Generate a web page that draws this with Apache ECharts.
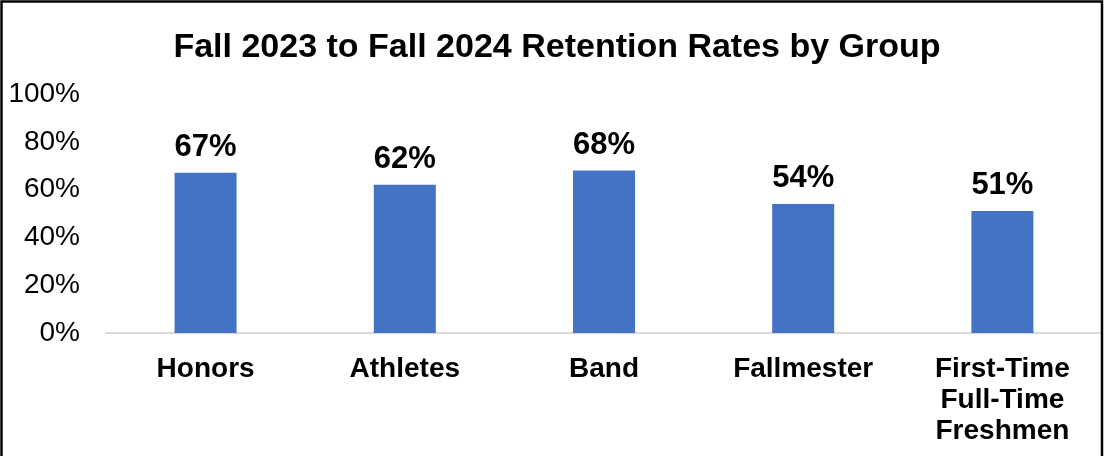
<!DOCTYPE html>
<html><head><meta charset="utf-8">
<script src="https://cdn.jsdelivr.net/npm/echarts@6/dist/echarts.min.js"></script>
<style>html,body{margin:0;padding:0;background:#fff}#c{width:1104px;height:456px}</style>
</head><body><div id="c"></div>
<script>
const categories = ['Honors', 'Athletes', 'Band', 'Fallmester', 'First-Time\nFull-Time\nFreshmen'];
const retention = [67, 62, 68, 54, 51];
const yTicks = [0, 20, 40, 60, 80, 100];

const chart = echarts.init(document.getElementById('c'));
chart.setOption({
  animation: false,
  backgroundColor: '#fff',
  title: {
    text: 'Fall 2023 to Fall 2024 Retention Rates by Group',
    left: 552, top: 26, textAlign: 'center',
    textStyle: {fontFamily: 'Liberation Sans', fontWeight: 'bold', fontSize: 34, color: '#000'}
  },
  graphic: [{type: 'rect', shape: {x: 1.5, y: 1.5, width: 1100.5, height: 470}, style: {fill: 'none', stroke: '#000', lineWidth: 2.5}, z: 100}],
  grid: {left: 106, right: 2, top: 94, bottom: 123},
  xAxis: {
    type: 'category', data: categories,
    axisLine: {lineStyle: {color: '#d9d9d9', width: 2}},
    axisTick: {show: false},
    axisLabel: {interval: 0, margin: 21, fontFamily: 'Liberation Sans', fontWeight: 'bold', fontSize: 28, color: '#000', lineHeight: 31}
  },
  yAxis: {
    type: 'value', min: 0, max: 100, interval: 20,
    splitLine: {show: false}, axisLine: {show: false}, axisTick: {show: false},
    axisLabel: {margin: 26, fontFamily: 'Liberation Sans', fontSize: 28, color: '#000',
      formatter: v => yTicks.includes(v) ? v + '%' : ''}
  },
  series: [{
    type: 'bar', data: retention, barWidth: 62,
    itemStyle: {color: '#4472C4'},
    label: {show: true, position: 'top', distance: 10, formatter: p => p.value + '%',
      fontFamily: 'Liberation Sans', fontWeight: 'bold', fontSize: 31, color: '#000'}
  }]
});
</script></body></html>
